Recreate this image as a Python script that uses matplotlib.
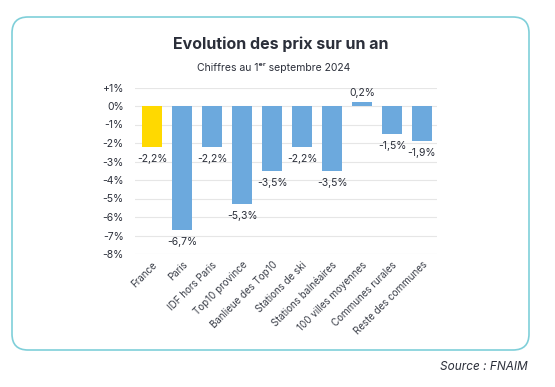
import matplotlib
matplotlib.use("Agg")
import matplotlib.pyplot as plt
from matplotlib.patches import FancyBboxPatch

plt.rcParams['font.family'] = ['Inter', 'DejaVu Sans']

# data
categories = ['France', 'Paris', 'IDF hors Paris', 'Top10 province', 'Banlieue des Top10',
              'Stations de ski', 'Stations balnéaires', '100 villes moyennes',
              'Communes rurales', 'Reste des communes']
values = [-2.2, -6.7, -2.2, -5.3, -3.5, -2.2, -3.5, 0.2, -1.5, -1.9]
yticks = [1, 0, -1, -2, -3, -4, -5, -6, -7, -8]

YELLOW = '#FFD900'
BLUE = '#6CA9DD'
TEXT = '#2b2f3a'

fig = plt.figure(figsize=(5.55, 3.87), dpi=100)

# rounded frame around the chart
box = FancyBboxPatch((0.12, 0.37), 5.17, 3.33, boxstyle='round,pad=0,rounding_size=0.16',
                     transform=fig.dpi_scale_trans, fill=False, edgecolor='#7fcfd9',
                     linewidth=1.2)
fig.patches.append(box)

ax = fig.add_axes([135 / 555, 1 - 254 / 387, (437 - 135) / 555, (254 - 87.5) / 387])
colors = [YELLOW] + [BLUE] * (len(values) - 1)
x = list(range(len(categories)))
ax.bar(x, values, width=0.66, color=colors, zorder=3)

ax.set_ylim(-8, 1)
ax.set_xlim(-0.57, 9.5)
ax.set_yticks(yticks)
ax.set_yticklabels([('+%d%%' % t) if t > 0 else ('%d%%' % t) for t in yticks])
ax.grid(axis='y', color='#e6e6e6', linewidth=0.8, zorder=0)
for s in ax.spines.values():
    s.set_visible(False)
ax.tick_params(axis='y', length=0, pad=8, labelsize=7.5, labelcolor=TEXT)
ax.tick_params(axis='x', length=0, pad=4, labelsize=7, labelcolor='#3a3e48')
ax.set_xticks(x)
ax.set_xticklabels(categories, rotation=45, ha='right', rotation_mode='anchor')

for xi, v in zip(x, values):
    lbl = ('%.1f%%' % v).replace('.', ',')
    if v < 0:
        ax.annotate(lbl, (xi, v), xytext=(0, -5), textcoords='offset points',
                    ha='center', va='top', fontsize=7.5, color=TEXT)
    else:
        ax.annotate(lbl, (xi, v), xytext=(0, 3), textcoords='offset points',
                    ha='center', va='bottom', fontsize=7.5, color=TEXT)

fig.text(281 / 555, 1 - 44 / 387, 'Evolution des prix sur un an', ha='center', va='center',
         fontsize=11.5, fontweight='bold', color=TEXT)
fig.text(274 / 555, 1 - 68 / 387, 'Chiffres au 1ᵉʳ septembre 2024', ha='center', va='center',
         fontsize=7.5, color=TEXT)
fig.text(528 / 555, 1 - 367 / 387, 'Source : FNAIM', ha='right', va='center',
         fontsize=8.5, style='italic', color=TEXT)

fig.savefig('out.png', dpi=100)
